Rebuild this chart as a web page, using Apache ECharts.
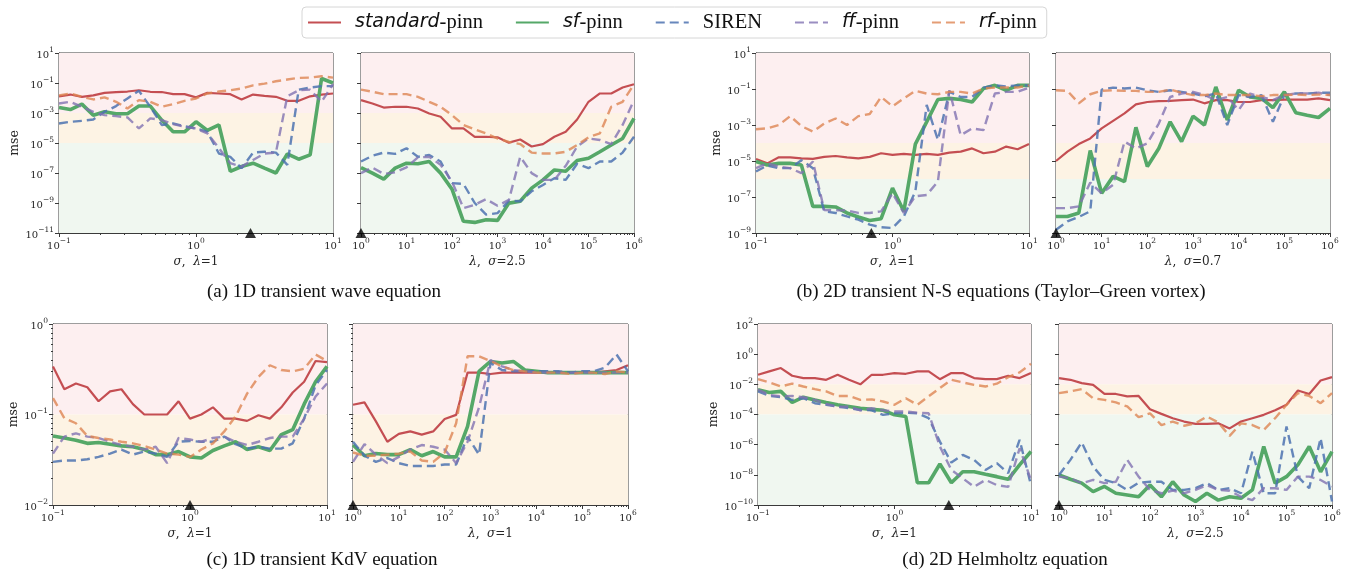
<!DOCTYPE html>
<html>
<head>
<meta charset="utf-8">
<script src="https://cdn.jsdelivr.net/npm/echarts@6/dist/echarts.min.js"></script>
<style>
  html, body { margin: 0; padding: 0; background: #fff; }
  #main { width: 1348px; height: 571px; }
</style>
</head>
<body>
<div id="main"></div>
<script>
// sample grids (sigma sweep and lambda sweep)
var sigmaGrid = [0.1, 0.121, 0.147, 0.178, 0.215, 0.261, 0.316, 0.383, 0.464, 0.562, 0.681, 0.825, 1, 1.21, 1.47, 1.78, 2.15, 2.61, 3.16, 3.83, 4.64, 5.62, 6.81, 8.25, 10];
var lambdaGrid = [1, 1.78, 3.16, 5.62, 10, 17.8, 31.6, 56.2, 100, 178, 316, 562, 1000, 1780, 3160, 5620, 1e4, 1.78e4, 3.16e4, 5.62e4, 1e5, 1.78e5, 3.16e5, 5.62e5, 1e6];

var seriesNames = ['standard-pinn', 'sf-pinn', 'SIREN', 'ff-pinn', 'rf-pinn'];

// (a) 1D transient wave equation
var aSigStd = [1.3e-2, 1.7e-2, 1.2e-2, 1.5e-2, 2.2e-2, 2.5e-2, 2.7e-2, 3.3e-2, 2.6e-2, 2.5e-2, 1.8e-2, 1.8e-2, 1.1e-2, 2.2e-2, 2.0e-2, 1.8e-2, 8e-3, 1.7e-2, 1.4e-2, 1.2e-2, 6.5e-3, 6.5e-3, 1.3e-2, 1.7e-2, 2.0e-2];
var aSigSf = [2.3e-3, 1.7e-3, 3.9e-3, 7e-4, 1.2e-3, 9e-4, 9e-4, 2.9e-3, 2.9e-3, 3.4e-4, 5.6e-5, 5.6e-5, 2.6e-4, 7e-5, 1.6e-4, 1.3e-7, 2.7e-7, 4.5e-7, 2.1e-7, 1e-7, 1.9e-6, 8.3e-7, 1.6e-6, 0.2, 0.1];
var aSigSiren = [2e-4, 2.6e-4, 3e-4, 3.7e-4, 1.2e-3, 2.9e-3, 9.3e-3, 3e-2, 2.6e-3, 1.6e-4, 2e-4, 1.3e-4, 9.3e-5, 5.6e-5, 2e-6, 1.2e-6, 2.1e-7, 2.3e-6, 2.6e-6, 2.3e-6, 3.5e-7, 3.6e-2, 5e-2, 6.2e-2, 6.2e-2];
var aSigFf = [4.3e-3, 5.6e-3, 2.6e-3, 1.2e-3, 7.2e-4, 6.2e-4, 5.1e-4, 9.3e-5, 4.4e-4, 3.4e-4, 1.8e-4, 1.2e-4, 9.3e-5, 4.4e-5, 4.5e-6, 4.5e-7, 2.7e-7, 7.4e-7, 2e-6, 2.3e-6, 1.3e-2, 3.3e-2, 3.6e-2, 5.6e-3, 8.3e-2];
var aSigRf = [1.5e-2, 2e-2, 1.2e-2, 8e-3, 1.1e-2, 5.6e-3, 2e-3, 7.2e-3, 5.6e-3, 2.6e-3, 3.9e-3, 6.5e-3, 9.3e-3, 2e-2, 2.7e-2, 3.3e-2, 4.3e-2, 7e-2, 9e-2, 0.13, 0.17, 0.22, 0.23, 0.28, 0.23];

var aLamStd = [7.2e-3, 4.3e-3, 2.3e-3, 2.6e-3, 2.6e-3, 2e-3, 9.3e-4, 5.6e-4, 9.3e-5, 9.3e-5, 2.6e-5, 2.6e-5, 2.4e-5, 1.05e-5, 1.7e-5, 5.8e-6, 8.5e-6, 2.6e-5, 5.6e-5, 3.7e-4, 5.6e-3, 2e-2, 2e-2, 5e-2, 8.3e-2];
var aLamSf = [2.3e-7, 9.8e-8, 3.9e-8, 2.1e-7, 4.5e-7, 4.1e-7, 5.8e-7, 9.8e-8, 8.3e-9, 6e-11, 5.1e-11, 7.7e-11, 6.9e-11, 9.8e-10, 1.3e-9, 9.8e-9, 3.5e-8, 1.6e-7, 1.3e-7, 6.8e-7, 9.6e-7, 2.6e-6, 7.4e-6, 2e-5, 4.4e-4];
var aLamSiren = [5.8e-7, 1.4e-6, 2.3e-6, 1.9e-6, 4.5e-6, 1.2e-6, 1.6e-6, 5.8e-7, 2.1e-8, 1.9e-8, 1e-9, 1.7e-10, 2.1e-10, 1.4e-9, 1.3e-9, 6e-9, 1.6e-8, 4.5e-8, 3.5e-8, 4.1e-7, 2.1e-7, 5.8e-7, 5.8e-7, 2.3e-6, 2.6e-5];
var aLamFf = [9.8e-8, 2.3e-7, 8.7e-8, 1.1e-7, 2.4e-7, 1.1e-6, 1.2e-6, 3.5e-7, 2.7e-8, 4.6e-10, 7.6e-10, 1.8e-9, 6.6e-10, 1.6e-9, 1.2e-6, 9.8e-8, 3.5e-8, 3.5e-8, 3e-7, 5.8e-6, 2e-5, 1.6e-5, 8.5e-6, 1.6e-4, 7.2e-3];
var aLamRf = [3.6e-2, 2.6e-2, 1.8e-2, 1.8e-2, 1.8e-2, 1.2e-2, 5.6e-3, 2.6e-3, 7.2e-4, 1.6e-4, 8.1e-5, 4.4e-5, 2e-5, 1.2e-5, 8.5e-6, 2.3e-6, 2e-6, 2e-6, 2.6e-6, 7.4e-6, 2.4e-5, 4.4e-5, 2.6e-3, 5.6e-3, 8.3e-2];

// (b) 2D transient N-S equations
var bSigStd = [1.3e-5, 7.4e-6, 1.6e-5, 1.6e-5, 1.4e-5, 1.3e-5, 1.7e-5, 1.9e-5, 1.6e-5, 1.4e-5, 1.7e-5, 2.7e-5, 2.2e-5, 2.5e-5, 2.2e-5, 2.5e-5, 2.2e-5, 2.9e-5, 3.3e-5, 5e-5, 2.7e-5, 3.3e-5, 6.3e-5, 4.5e-5, 8.7e-5];
var bSigSf = [9.3e-6, 6e-6, 7.4e-6, 7.4e-6, 6e-6, 3e-8, 3e-8, 2.8e-8, 1.3e-8, 7.8e-9, 5e-9, 6.2e-9, 3.1e-7, 1.6e-8, 8.7e-5, 1.5e-3, 2.6e-2, 3e-2, 2.6e-2, 1.9e-2, 0.107, 0.16, 8.5e-2, 0.16, 0.16];
var bSigSiren = [2.6e-6, 5.6e-6, 4e-6, 4e-6, 1.1e-5, 4e-6, 1.6e-8, 1.3e-8, 8.3e-9, 5.5e-9, 2.9e-9, 2.1e-9, 1.9e-9, 8.3e-9, 2e-7, 1.3e-2, 1.5e-4, 6.9e-2, 3.6e-2, 3.6e-2, 0.12, 0.16, 0.14, 0.16, 0.16];
var bSigFf = [4e-6, 7.4e-6, 4.9e-6, 4e-6, 2.1e-6, 9.3e-6, 1.9e-8, 1.8e-8, 1.8e-8, 1.3e-8, 1.3e-8, 1.6e-8, 1.6e-7, 1.3e-8, 1.1e-7, 1.3e-7, 7.2e-7, 8.5e-2, 2.7e-4, 6.5e-4, 5.2e-4, 5.6e-2, 6.9e-2, 6.9e-2, 0.12];
var bSigRf = [5.8e-4, 6.5e-4, 1e-3, 3.1e-3, 8.7e-4, 4.3e-4, 1.2e-3, 2.3e-3, 1e-3, 3.1e-3, 4.1e-3, 3.6e-2, 1.1e-2, 3e-2, 7.9e-2, 5.6e-2, 5.1e-2, 6.9e-2, 6.9e-2, 5.6e-2, 0.107, 0.12, 0.12, 0.12, 0.16];

var bLamStd = [1e-5, 3.3e-5, 8.7e-5, 1.8e-4, 6.5e-4, 1.7e-3, 4.4e-3, 1.4e-2, 1.9e-2, 2.1e-2, 2.2e-2, 2.4e-2, 2.6e-2, 1.6e-2, 2.4e-2, 2.4e-2, 1.9e-2, 1.9e-2, 2.4e-2, 2.4e-2, 2.6e-2, 2.6e-2, 2.6e-2, 3e-2, 2.4e-2];
var bLamSf = [8.3e-9, 8.3e-9, 1.3e-8, 3.8e-5, 1.6e-7, 1.4e-6, 7.2e-7, 7.4e-4, 4.9e-6, 5e-5, 1.5e-3, 1.2e-4, 3.1e-3, 1e-3, 0.13, 1.9e-3, 8.5e-2, 3.6e-2, 3e-2, 9.3e-3, 6.9e-2, 4.8e-3, 3.5e-3, 2.6e-3, 8.3e-3];
var bLamSiren = [1.5e-9, 4.4e-9, 7.8e-9, 1.6e-8, 9.3e-2, 0.12, 0.107, 0.12, 8.5e-2, 6.9e-2, 8.5e-2, 6.9e-2, 5.6e-2, 4e-2, 5.6e-2, 1e-3, 4.6e-2, 3.6e-2, 4.6e-2, 1.5e-3, 4.6e-2, 5.6e-2, 5.6e-2, 6.2e-2, 6.2e-2];
var bLamFf = [2.4e-8, 2.4e-8, 3e-8, 6.3e-7, 1.6e-7, 4.8e-7, 1.2e-4, 5e-5, 9.5e-5, 1.2e-3, 3.6e-2, 5.6e-2, 6.9e-2, 4.6e-2, 2.4e-2, 3.6e-2, 6.8e-3, 5.6e-2, 3.6e-2, 2.4e-2, 4.6e-2, 5.6e-2, 5.6e-2, 6.2e-2, 4.6e-2];
var bLamRf = [8.5e-2, 7.9e-2, 1.6e-2, 5.1e-2, 7.9e-2, 8.5e-2, 7.9e-2, 7.9e-2, 6.9e-2, 6.9e-2, 9.3e-2, 6.2e-2, 4.6e-2, 4.6e-2, 5.6e-2, 4.6e-2, 4.6e-2, 4.6e-2, 4e-2, 4.6e-2, 4.6e-2, 4.9e-2, 4.6e-2, 4.9e-2, 4.6e-2];

// (c) 1D transient KdV equation
var cSigStd = [0.34, 0.19, 0.22, 0.20, 0.14, 0.18, 0.19, 0.13, 0.10, 0.10, 0.10, 0.14, 0.09, 0.10, 0.12, 0.09, 0.09, 0.085, 0.098, 0.09, 0.12, 0.175, 0.23, 0.39, 0.38];
var cSigSf = [0.058, 0.055, 0.052, 0.048, 0.049, 0.047, 0.045, 0.044, 0.041, 0.036, 0.036, 0.039, 0.034, 0.033, 0.040, 0.045, 0.050, 0.041, 0.044, 0.040, 0.060, 0.068, 0.13, 0.23, 0.34];
var cSigSiren = [0.030, 0.031, 0.031, 0.032, 0.034, 0.037, 0.041, 0.036, 0.039, 0.037, 0.034, 0.050, 0.051, 0.050, 0.050, 0.057, 0.047, 0.042, 0.044, 0.042, 0.042, 0.048, 0.09, 0.21, 0.31];
var cSigFf = [0.037, 0.057, 0.062, 0.057, 0.055, 0.050, 0.046, 0.044, 0.041, 0.044, 0.029, 0.055, 0.053, 0.050, 0.055, 0.057, 0.050, 0.046, 0.050, 0.055, 0.057, 0.057, 0.09, 0.158, 0.22];
var cSigRf = [0.152, 0.091, 0.080, 0.058, 0.055, 0.053, 0.050, 0.048, 0.045, 0.041, 0.037, 0.036, 0.034, 0.041, 0.048, 0.065, 0.095, 0.17, 0.26, 0.35, 0.31, 0.30, 0.32, 0.46, 0.39];

var cLamStd = [0.128, 0.136, 0.084, 0.050, 0.061, 0.065, 0.060, 0.065, 0.089, 0.099, 0.29, 0.29, 0.28, 0.29, 0.29, 0.29, 0.29, 0.29, 0.29, 0.29, 0.29, 0.29, 0.30, 0.31, 0.35];
var cLamSf = [0.046, 0.035, 0.037, 0.036, 0.036, 0.041, 0.035, 0.039, 0.034, 0.034, 0.074, 0.30, 0.386, 0.37, 0.386, 0.31, 0.30, 0.29, 0.29, 0.29, 0.29, 0.29, 0.29, 0.29, 0.29];
var cLamSiren = [0.050, 0.035, 0.030, 0.033, 0.029, 0.027, 0.027, 0.027, 0.028, 0.028, 0.057, 0.036, 0.37, 0.31, 0.30, 0.30, 0.30, 0.30, 0.30, 0.29, 0.30, 0.30, 0.33, 0.46, 0.30];
var cLamFf = [0.030, 0.047, 0.036, 0.029, 0.034, 0.041, 0.046, 0.044, 0.041, 0.029, 0.05, 0.12, 0.40, 0.34, 0.31, 0.30, 0.29, 0.29, 0.29, 0.29, 0.29, 0.29, 0.29, 0.29, 0.29];
var cLamRf = [0.038, 0.035, 0.035, 0.036, 0.037, 0.039, 0.031, 0.030, 0.038, 0.08, 0.44, 0.44, 0.39, 0.34, 0.31, 0.30, 0.29, 0.29, 0.29, 0.28, 0.29, 0.29, 0.28, 0.30, 0.29];

// (d) 2D Helmholtz equation
var dSigStd = [0.043, 0.072, 0.12, 0.037, 0.026, 0.026, 0.020, 0.043, 0.020, 0.010, 0.043, 0.043, 0.056, 0.050, 0.072, 0.072, 0.022, 0.056, 0.056, 0.026, 0.022, 0.022, 0.037, 0.026, 0.056];
var dSigSf = [4.4e-3, 2.9e-3, 3.4e-3, 6.3e-4, 1.4e-3, 9.3e-4, 6.3e-4, 4.4e-4, 3.4e-4, 2.6e-4, 2.2e-4, 1.9e-4, 9.5e-5, 7.4e-5, 3e-9, 3e-9, 5.2e-8, 3e-9, 1.6e-8, 1.6e-8, 1.1e-8, 7.6e-9, 5e-9, 4.6e-8, 3.5e-7];
var dSigSiren = [3.4e-3, 1.7e-3, 1.4e-3, 9.3e-4, 1.2e-3, 5.6e-4, 4.4e-4, 3.4e-4, 2.6e-4, 2e-4, 1.9e-4, 9.5e-5, 1.2e-4, 1.3e-4, 1.2e-4, 5.7e-5, 1.6e-6, 6.5e-8, 2.1e-7, 9.8e-8, 2.1e-8, 5.9e-8, 1.3e-8, 2.1e-6, 2.1e-9];
var dSigFf = [4.4e-3, 2e-3, 1.6e-3, 1.7e-3, 1.4e-3, 9.3e-4, 5.1e-4, 3.1e-4, 3.4e-4, 1.9e-4, 2.6e-4, 1.9e-4, 1.6e-4, 1.6e-4, 1.3e-4, 1.2e-4, 7.6e-7, 2.1e-8, 5.9e-9, 1.6e-9, 4.6e-9, 2.1e-9, 1.6e-9, 5.8e-7, 4.6e-9];
var dSigRf = [0.022, 0.0134, 0.0072, 0.011, 0.0072, 0.0048, 0.0034, 0.0017, 0.0017, 9.3e-4, 1e-3, 7.3e-4, 4.4e-4, 1.2e-3, 4.4e-4, 1.6e-3, 5.7e-3, 0.02, 0.0134, 0.0093, 0.0072, 0.011, 0.03, 0.062, 0.23];

var dLamStd = [0.026, 0.020, 0.012, 0.0093, 0.0023, 0.0023, 0.0016, 0.0017, 2.2e-4, 1.1e-4, 5.7e-5, 3.4e-5, 2.4e-5, 2.4e-5, 2.6e-5, 1.2e-5, 3.4e-5, 5.7e-5, 9.5e-5, 1.9e-4, 4.4e-4, 3.9e-3, 2.3e-3, 0.018, 0.03];
var dLamSf = [9.8e-9, 5.1e-9, 2.8e-9, 7.7e-10, 1.7e-9, 6e-10, 4.6e-10, 3.5e-10, 2.1e-9, 3.5e-10, 3.5e-9, 4.6e-10, 1.7e-10, 6e-10, 2.1e-10, 3.5e-10, 2.8e-10, 1e-9, 7.6e-7, 2.8e-9, 7.6e-9, 4.6e-8, 7.6e-7, 1.6e-8, 3.5e-7];
var dLamSiren = [9.8e-9, 9.8e-8, 1.4e-6, 3.5e-8, 4.6e-9, 2.8e-9, 1e-9, 3e-9, 3.5e-9, 3.5e-9, 1e-9, 1e-9, 1.3e-9, 2.8e-9, 1e-9, 1.3e-9, 6e-10, 3.5e-7, 6e-10, 6e-10, 1.6e-5, 7.6e-9, 1.3e-9, 2.7e-6, 1.7e-10];
var dLamFf = [7.6e-9, 5.9e-9, 2.8e-9, 4.6e-9, 2.8e-9, 3.5e-9, 9.8e-8, 7.6e-9, 1e-9, 6e-10, 8.9e-10, 6e-10, 1e-9, 2.1e-9, 1e-9, 8.9e-10, 3.5e-10, 2.1e-10, 1.3e-9, 1.3e-9, 1e-9, 7.6e-9, 7.6e-9, 4.6e-9, 1.7e-9];
var dLamRf = [2.6e-3, 3.4e-3, 4.8e-3, 1.2e-3, 9.3e-4, 6.3e-4, 3.4e-4, 6.6e-5, 1.2e-4, 2e-5, 3.4e-5, 1.8e-5, 2.6e-5, 7.4e-5, 3e-5, 3.8e-6, 2.6e-5, 2e-5, 9.5e-6, 5.7e-5, 4.4e-4, 2.6e-3, 1.7e-3, 5.6e-4, 2.6e-3];

// chosen hyper-parameter (triangle) per panel
var markers = [2.5, 1, 0.7, 1, 1, 1, 2.5, 1];
// mse ranges and band thresholds per equation
var yRanges = { a: [1e-11, 10], b: [1e-9, 10], c: [1e-2, 1], d: [1e-10, 100] };
var yBands = { a: [1e-3, 1e-5], b: [1e-4, 1e-6], c: [1e-1, 1e-2], d: [1e-2, 1e-4] };
var captions = ['(a) 1D transient wave equation', '(b) 2D transient N-S equations (Taylor\u2013Green vortex)',
                '(c) 1D transient KdV equation', '(d) 2D Helmholtz equation'];

var panels = [
    { eq: 'a', sweep: 'sigma', note: '{i|\u03bb}=1',   lines: [aSigStd, aSigSf, aSigSiren, aSigFf, aSigRf], grid: [59, 53, 274, 180], ystep: 2, nameGap: 36 },
    { eq: 'a', sweep: 'lambda', note: '{i|\u03c3}=2.5', lines: [aLamStd, aLamSf, aLamSiren, aLamFf, aLamRf], grid: [361, 53, 273, 180], ystep: 2 },
    { eq: 'b', sweep: 'sigma', note: '{i|\u03bb}=1',   lines: [bSigStd, bSigSf, bSigSiren, bSigFf, bSigRf], grid: [756, 53, 273, 180], ystep: 2, nameGap: 33 },
    { eq: 'b', sweep: 'lambda', note: '{i|\u03c3}=0.7', lines: [bLamStd, bLamSf, bLamSiren, bLamFf, bLamRf], grid: [1056, 53, 274, 180], ystep: 2 },
    { eq: 'c', sweep: 'sigma', note: '{i|\u03bb}=1',   lines: [cSigStd, cSigSf, cSigSiren, cSigFf, cSigRf], grid: [53, 324, 274, 181], ystep: 1, nameGap: 32 },
    { eq: 'c', sweep: 'lambda', note: '{i|\u03c3}=1',   lines: [cLamStd, cLamSf, cLamSiren, cLamFf, cLamRf], grid: [353, 324, 275, 181], ystep: 1 },
    { eq: 'd', sweep: 'sigma', note: '{i|\u03bb}=1',   lines: [dSigStd, dSigSf, dSigSiren, dSigFf, dSigRf], grid: [758, 324, 273, 181], ystep: 2, nameGap: 37 },
    { eq: 'd', sweep: 'lambda', note: '{i|\u03c3}=2.5', lines: [dLamStd, dLamSf, dLamSiren, dLamFf, dLamRf], grid: [1059, 324, 273, 181], ystep: 2 }
];

var lineStyles = [
    { color: '#c44e52', width: 2.2, type: 'solid', opacity: 1 },
    { color: '#55a868', width: 3.6, type: 'solid', opacity: 1 },
    { color: '#4c72b0', width: 2.4, type: [9, 5], opacity: 0.85 },
    { color: '#8172b2', width: 2.4, type: [9, 5], opacity: 0.8 },
    { color: '#dd8452', width: 2.4, type: [9, 5], opacity: 0.8 }
];
var bandColors = ['#fdeff0', '#fdf3e4', '#f0f7f0'];
var ink = '#262626';
var serif = 'DejaVu Serif';

// tick labels as 10 with a raised exponent
var tickRich = {
    b: { fontFamily: serif, fontSize: 10, color: ink, lineHeight: 14, verticalAlign: 'bottom' },
    s: { fontFamily: serif, fontSize: 7.5, color: ink, lineHeight: 14, verticalAlign: 'top' }
};
function powLabel(v) {
    var e = Math.round(Math.log10(v));
    return '{b|10}{s|' + String(e).replace('-', '\u2212') + '}';
}

var legendText = {
    'standard-pinn': '{i|standard}-pinn',
    'sf-pinn': '{i|sf}-pinn',
    'SIREN': 'SIREN',
    'ff-pinn': '{i|ff}-pinn',
    'rf-pinn': '{i|rf}-pinn'
};

var grids = [], xAxes = [], yAxes = [], series = [];

panels.forEach(function (p, k) {
    var yr = yRanges[p.eq], bands = yBands[p.eq];
    var xs = p.sweep === 'sigma' ? sigmaGrid : lambdaGrid;
    var isLeft = p.sweep === 'sigma';

    grids.push({
        left: p.grid[0], top: p.grid[1], width: p.grid[2], height: p.grid[3],
        show: true, borderColor: '#3a3a3a', borderWidth: 1, backgroundColor: 'transparent'
    });
    xAxes.push({
        gridIndex: k, type: 'log', logBase: 10,
        min: isLeft ? 0.1 : 1, max: isLeft ? 10 : 1e6, interval: 1,
        name: (isLeft ? '{i|\u03c3}' : '{i|\u03bb}') + ',  ' + p.note,
        nameLocation: 'middle', nameGap: 23,
        nameTextStyle: { fontFamily: serif, fontSize: 12, color: ink,
            rich: { i: { fontFamily: serif, fontStyle: 'italic', fontSize: 12, color: ink } } },
        axisLine: { show: true, lineStyle: { color: '#3a3a3a', width: 1 } },
        axisTick: { show: true, length: 4, lineStyle: { color: '#3a3a3a' } },
        minorTick: { show: true, splitNumber: 9, length: 2, lineStyle: { color: '#3a3a3a' } },
        axisLabel: { color: ink, margin: 4, formatter: powLabel, rich: tickRich },
        splitLine: { show: false }
    });
    yAxes.push({
        gridIndex: k, type: 'log', logBase: 10,
        min: yr[0], max: yr[1], interval: p.ystep,
        name: isLeft ? 'mse' : '', nameLocation: 'middle', nameGap: p.nameGap || 30,
        nameTextStyle: { fontFamily: serif, fontSize: 12.5, color: ink },
        axisLine: { show: true, lineStyle: { color: '#3a3a3a', width: 1 } },
        axisTick: { show: true, length: 4, lineStyle: { color: '#3a3a3a' } },
        minorTick: { show: p.eq === 'c', splitNumber: 9, length: 2, lineStyle: { color: '#3a3a3a' } },
        axisLabel: { show: isLeft, color: ink, margin: 5, formatter: powLabel, rich: tickRich },
        splitLine: { show: false }
    });

    // shaded accuracy bands
    series.push({
        type: 'line', xAxisIndex: k, yAxisIndex: k, data: [], z: 1, silent: true,
        markArea: {
            silent: true,
            data: [
                [{ yAxis: bands[0], itemStyle: { color: bandColors[0] } }, { yAxis: yr[1] }],
                [{ yAxis: bands[1], itemStyle: { color: bandColors[1] } }, { yAxis: bands[0] }],
                [{ yAxis: yr[0], itemStyle: { color: bandColors[2] } }, { yAxis: bands[1] }]
            ]
        }
    });

    p.lines.forEach(function (vals, s) {
        var st = lineStyles[s];
        series.push({
            name: seriesNames[s], type: 'line', xAxisIndex: k, yAxisIndex: k,
            data: xs.map(function (x, i) { return [x, vals[i]]; }),
            symbol: 'none', showSymbol: false, z: 3 + s,
            lineStyle: { color: st.color, width: st.width, type: st.type, opacity: st.opacity },
            itemStyle: { color: st.color, opacity: st.opacity },
            emphasis: { disabled: true }
        });
    });

    // chosen value marker on the x axis
    series.push({
        name: 'marker', type: 'scatter', xAxisIndex: k, yAxisIndex: k,
        data: [[markers[k], yr[0]]], symbol: 'triangle', symbolSize: [11, 10],
        itemStyle: { color: '#000' }, clip: false, z: 10, silent: true
    });
});

var graphics = [
    { x: 324, y: 292 }, { x: 1001, y: 292 }, { x: 322, y: 560 }, { x: 1005, y: 560 }
].map(function (pos, i) {
    return {
        type: 'text', x: pos.x, y: pos.y,
        style: { text: captions[i], fontFamily: 'Liberation Serif', fontSize: 19, fill: '#111',
                 textAlign: 'center', textVerticalAlign: 'middle' }
    };
});

var chart = echarts.init(document.getElementById('main'));
chart.setOption({
    animation: false,
    backgroundColor: '#fff',
    legend: {
        data: seriesNames,
        left: 302, top: 7,
        padding: [5, 10, 5, 5],
        itemWidth: 33, itemHeight: 14, itemGap: 32,
        itemStyle: { opacity: 0 },
        borderColor: '#d6d6d6', borderWidth: 1, borderRadius: 4, backgroundColor: '#fff',
        formatter: function (name) { return legendText[name]; },
        textStyle: {
            fontFamily: 'Liberation Serif', fontSize: 20.5, color: '#111', padding: [0, 0, 0, 9],
            rich: { i: { fontFamily: 'DejaVu Sans', fontStyle: 'italic', fontSize: 19, color: '#111' } }
        }
    },
    grid: grids,
    xAxis: xAxes,
    yAxis: yAxes,
    series: series,
    graphic: graphics
});
</script>
</body>
</html>
